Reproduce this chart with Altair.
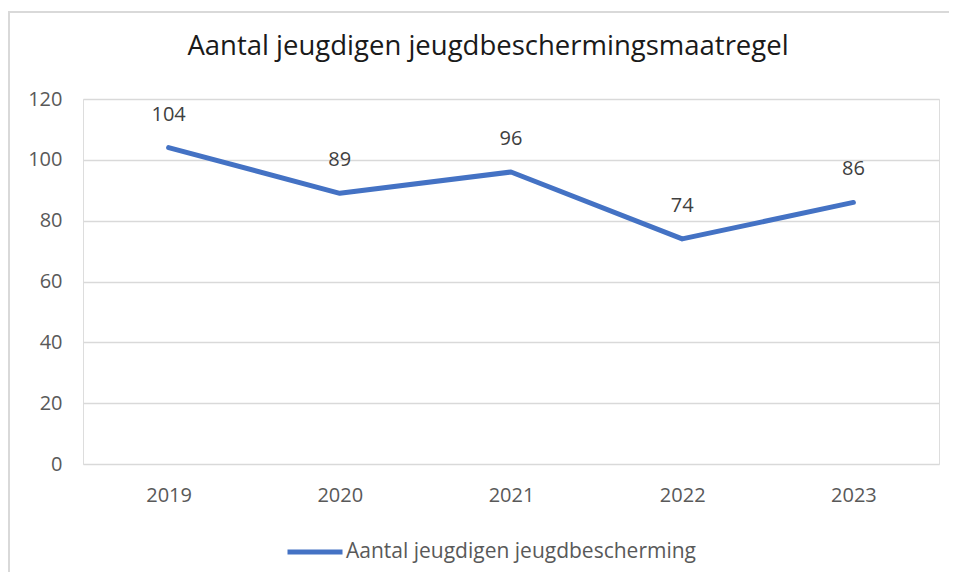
import altair as alt
import pandas as pd

years = ["2019", "2020", "2021", "2022", "2023"]
values = [104, 89, 96, 74, 86]
series_name = "Aantal jeugdigen jeugdbescherming"
title_text = "Aantal jeugdigen jeugdbeschermingsmaatregel"
y_ticks = [0, 20, 40, 60, 80, 100, 120]

df = pd.DataFrame({"jaar": years, "aantal": values, "reeks": [series_name] * len(years)})

FONT = "Open Sans"
W, H = 856, 365

base = alt.Chart(df)

x_enc = alt.X(
    "jaar:O",
    scale=alt.Scale(type="point", padding=0.5),
    axis=alt.Axis(
        title=None, labelAngle=0, domain=False, ticks=False, labelPadding=21,
        labelFontSize=20, labelColor="#595959", labelFont=FONT, grid=False,
    ),
)
y_enc = alt.Y(
    "aantal:Q",
    scale=alt.Scale(domain=[0, 120], nice=False),
    axis=alt.Axis(
        title=None, values=y_ticks, domain=False, ticks=False, labelPadding=21,
        labelFontSize=20, labelColor="#595959", labelFont=FONT,
        grid=True, gridColor="#D9D9D9", gridWidth=1.5,
    ),
)

line = base.mark_line(strokeWidth=5, strokeCap="round", strokeJoin="round").encode(
    x=x_enc,
    y=y_enc,
    color=alt.Color(
        "reeks:N",
        scale=alt.Scale(range=["#4472C4"]),
        legend=alt.Legend(
            title=None, orient="none", legendX=202, legendY=423, direction="horizontal",
            symbolType="stroke", symbolSize=3025, symbolStrokeWidth=5,
            labelFontSize=21, labelColor="#595959", labelFont=FONT, labelOffset=1,
            labelLimit=0, padding=0, symbolOffset=0,
        ),
    ),
)

labels = base.mark_text(fontSize=20, font=FONT, color="#404040", baseline="middle", dy=-33).encode(
    x="jaar:O", y="aantal:Q", text="aantal:Q"
)

frame_data = alt.Data(values=[{"k": 1}])
left_border = alt.Chart(frame_data).mark_rule(color="#D9D9D9", strokeWidth=2).encode(
    x=alt.value(-74), y=alt.value(-87), y2=alt.value(H + 110)
)
top_border = alt.Chart(frame_data).mark_rule(color="#D9D9D9", strokeWidth=2).encode(
    x=alt.value(-75), x2=alt.value(W + 20), y=alt.value(-87)
)
title = alt.Chart(frame_data).mark_text(
    fontSize=27.5, font=FONT, color="#1a1a1a", baseline="alphabetic", align="center"
).encode(x=alt.value(405), y=alt.value(-44), text=alt.value(title_text))

chart = (
    alt.layer(left_border, top_border, title, line, labels)
    .properties(
        width=W, height=H,
        autosize=alt.AutoSizeParams(type="none"),
        padding={"left": 75, "top": 91, "right": 10, "bottom": 108},
    )
    .configure_view(stroke=None)
    .configure(background="white")
)

chart.save("out.html", embed_options={"renderer": "svg", "actions": False})
